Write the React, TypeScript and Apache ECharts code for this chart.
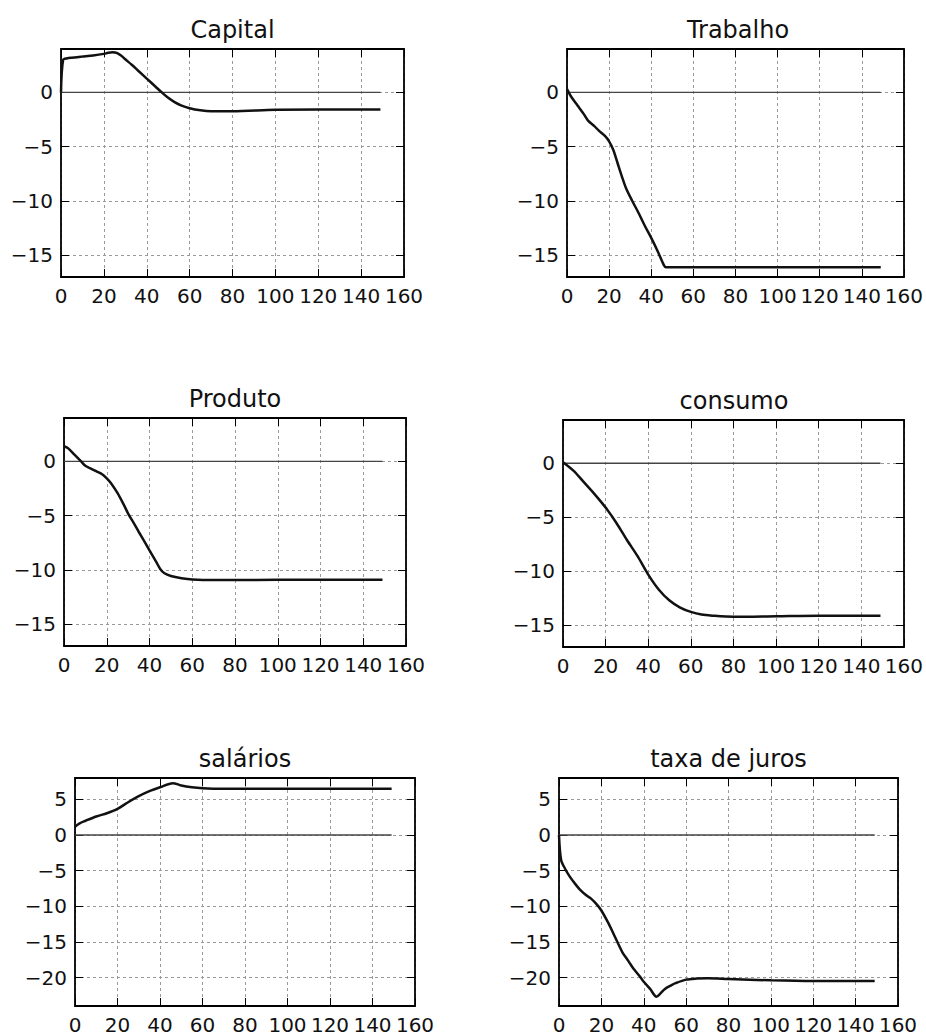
import React, { useEffect, useRef } from 'react';
import * as echarts from 'echarts';

// ---- data ----
const xTickValues = [0, 20, 40, 60, 80, 100, 120, 140, 160];
const yTicksUpper = [-15, -10, -5, 0];
const yTicksLower = [-20, -15, -10, -5, 0, 5];
const panelTitles = ['Capital', 'Trabalho', 'Produto', 'consumo', 'salários', 'taxa de juros'];

const capitalX = [0, 1, 3, 5, 10, 15, 20, 22, 24, 26, 28, 30, 33, 36, 40, 44, 47, 50, 53, 56, 60, 65, 70, 80, 100, 120, 149];
const capitalY = [0, 3.0, 3.15, 3.2, 3.3, 3.4, 3.55, 3.65, 3.7, 3.65, 3.4, 3.05, 2.55, 2.0, 1.27, 0.55, 0.0, -0.5, -0.9, -1.2, -1.45, -1.64, -1.73, -1.73, -1.6, -1.58, -1.58];

const trabalhoX = [0, 2, 5, 8, 10, 13, 15, 18, 20, 22, 24, 26, 28, 31, 34, 37, 40, 43, 46, 47, 60, 80, 100, 120, 149];
const trabalhoY = [0.3, -0.4, -1.2, -2.0, -2.6, -3.1, -3.5, -4.0, -4.5, -5.3, -6.5, -7.7, -8.8, -10.0, -11.1, -12.3, -13.4, -14.6, -15.9, -16.1, -16.1, -16.1, -16.1, -16.1, -16.1];

const produtoX = [0, 2, 5, 8, 10, 13, 15, 18, 20, 22, 25, 28, 30, 33, 35, 38, 40, 43, 45, 47, 50, 55, 60, 70, 80, 100, 149];
const produtoY = [1.4, 1.2, 0.6, 0.0, -0.4, -0.7, -0.9, -1.2, -1.55, -2.0, -2.9, -4.0, -4.8, -5.8, -6.5, -7.5, -8.2, -9.2, -9.9, -10.3, -10.55, -10.75, -10.87, -10.93, -10.93, -10.9, -10.9];

const consumoX = [0, 5, 10, 15, 20, 25, 30, 35, 40, 45, 50, 55, 60, 65, 70, 80, 100, 120, 149];
const consumoY = [0.1, -0.7, -1.8, -2.9, -4.1, -5.5, -7.1, -8.6, -10.3, -11.7, -12.7, -13.35, -13.75, -14.0, -14.1, -14.2, -14.15, -14.1, -14.1];

const salariosX = [0, 2, 5, 10, 15, 20, 25, 30, 35, 40, 46, 50, 55, 60, 70, 80, 100, 120, 149];
const salariosY = [1.17, 1.6, 2.0, 2.6, 3.05, 3.66, 4.6, 5.45, 6.15, 6.7, 7.28, 6.95, 6.7, 6.57, 6.5, 6.5, 6.5, 6.5, 6.5];

const taxaX = [0, 1, 3, 5, 8, 10, 13, 15, 18, 20, 23, 25, 28, 30, 33, 35, 38, 40, 43, 46, 48, 50, 53, 55, 60, 65, 70, 80, 100, 120, 149];
const taxaY = [0, -3.5, -4.8, -5.8, -7.0, -7.7, -8.5, -8.9, -9.8, -10.6, -12.2, -13.4, -15.3, -16.5, -17.8, -18.7, -19.8, -20.6, -21.6, -22.7, -22.2, -21.6, -21.1, -20.8, -20.3, -20.15, -20.1, -20.2, -20.4, -20.5, -20.5];

const zeroLineX = [0, 149];
const zeroLineY = [0, 0];

const seriesX = [capitalX, trabalhoX, produtoX, consumoX, salariosX, taxaX];
const seriesY = [capitalY, trabalhoY, produtoY, consumoY, salariosY, taxaY];

// ---- layout ----
const boxes = [
  { left: 61, top: 49, width: 343, height: 228 },
  { left: 567, top: 49, width: 342, height: 228 },
  { left: 64, top: 418, width: 342, height: 228 },
  { left: 563, top: 420, width: 342, height: 227 },
  { left: 75, top: 778, width: 340, height: 228 },
  { left: 559, top: 778, width: 339, height: 228 },
];
const yRanges = [
  [-17, 4], [-17, 4], [-17, 4], [-17, 4], [-24, 8], [-24, 8],
];

const FONT = '"DejaVu Sans", "Liberation Sans", sans-serif';
const fmt = (v: number) => (v < 0 ? '\u2212' + Math.abs(v) : String(v));

export default function App() {
  const ref = useRef<HTMLDivElement>(null);
  useEffect(() => {
    const chart = echarts.init(ref.current!, null, { renderer: 'svg' });
    const grid: any[] = [];
    const xAxis: any[] = [];
    const yAxis: any[] = [];
    const series: any[] = [];
    const graphic: any[] = [];
    const axisLine = { show: true, onZero: false, lineStyle: { color: '#000', width: 1.8 } };
    const split = { show: true, lineStyle: { color: '#9a9a9a', width: 1, type: [3, 3] } };

    boxes.forEach((b, i) => {
      grid.push({ ...b, containLabel: false });
      const yt = i < 4 ? yTicksUpper : yTicksLower;
      const [ymin, ymax] = yRanges[i];
      xAxis.push({
        type: 'value', gridIndex: i, position: 'bottom', min: 0, max: 160, interval: 20,
        axisLine, axisTick: { show: true, inside: true, length: 8, customValues: xTickValues, lineStyle: { color: '#000', width: 1 } },
        axisLabel: { show: true, margin: 9, fontSize: 20, fontFamily: FONT, color: '#111', customValues: xTickValues, formatter: fmt },
        splitLine: split,
      });
      xAxis.push({
        type: 'value', gridIndex: i, position: 'top', min: 0, max: 160, interval: 20,
        axisLine, axisTick: { show: true, inside: true, length: 8, lineStyle: { color: '#000', width: 1 } },
        axisLabel: { show: false }, splitLine: { show: false },
      });
      yAxis.push({
        type: 'value', gridIndex: i, position: 'left', min: ymin, max: ymax,
        axisLine,
        axisTick: { show: true, inside: true, length: 8, customValues: yt, lineStyle: { color: '#000', width: 1 } },
        axisLabel: { show: true, margin: 8, fontSize: 20, fontFamily: FONT, color: '#111', customValues: yt, formatter: fmt },
        splitLine: split,
      });
      yAxis.push({
        type: 'value', gridIndex: i, position: 'right', min: ymin, max: ymax,
        axisLine,
        axisTick: { show: true, inside: true, length: 8, customValues: yt, lineStyle: { color: '#000', width: 1 } },
        axisLabel: { show: false }, splitLine: { show: false },
      });
      series.push({
        type: 'line', xAxisIndex: 2 * i, yAxisIndex: 2 * i,
        data: zeroLineX.map((x, k) => [x, zeroLineY[k]]),
        showSymbol: false, silent: true, z: 2,
        lineStyle: { color: '#444', width: 1.3 },
      });
      series.push({
        type: 'line', xAxisIndex: 2 * i, yAxisIndex: 2 * i,
        data: seriesX[i].map((x, k) => [x, seriesY[i][k]]),
        showSymbol: false, silent: true, smooth: 0.3, z: 3,
        lineStyle: { color: '#111', width: 2.5 },
      });
      graphic.push({
        type: 'text', x: b.left + b.width / 2, y: b.top - 19,
        style: {
          text: panelTitles[i], fill: '#111', fontSize: 24, fontFamily: FONT,
          align: 'center', verticalAlign: 'middle', textAlign: 'center', textVerticalAlign: 'middle',
        },
      });
    });

    chart.setOption({
      animation: false,
      backgroundColor: '#fff',
      grid, xAxis, yAxis, series, graphic,
    });
    return () => chart.dispose();
  }, []);
  return (
    <div
      ref={ref}
      style={{ position: 'absolute', left: 0, top: 0, width: 926, height: 1036, background: '#fff' }}
    />
  );
}
